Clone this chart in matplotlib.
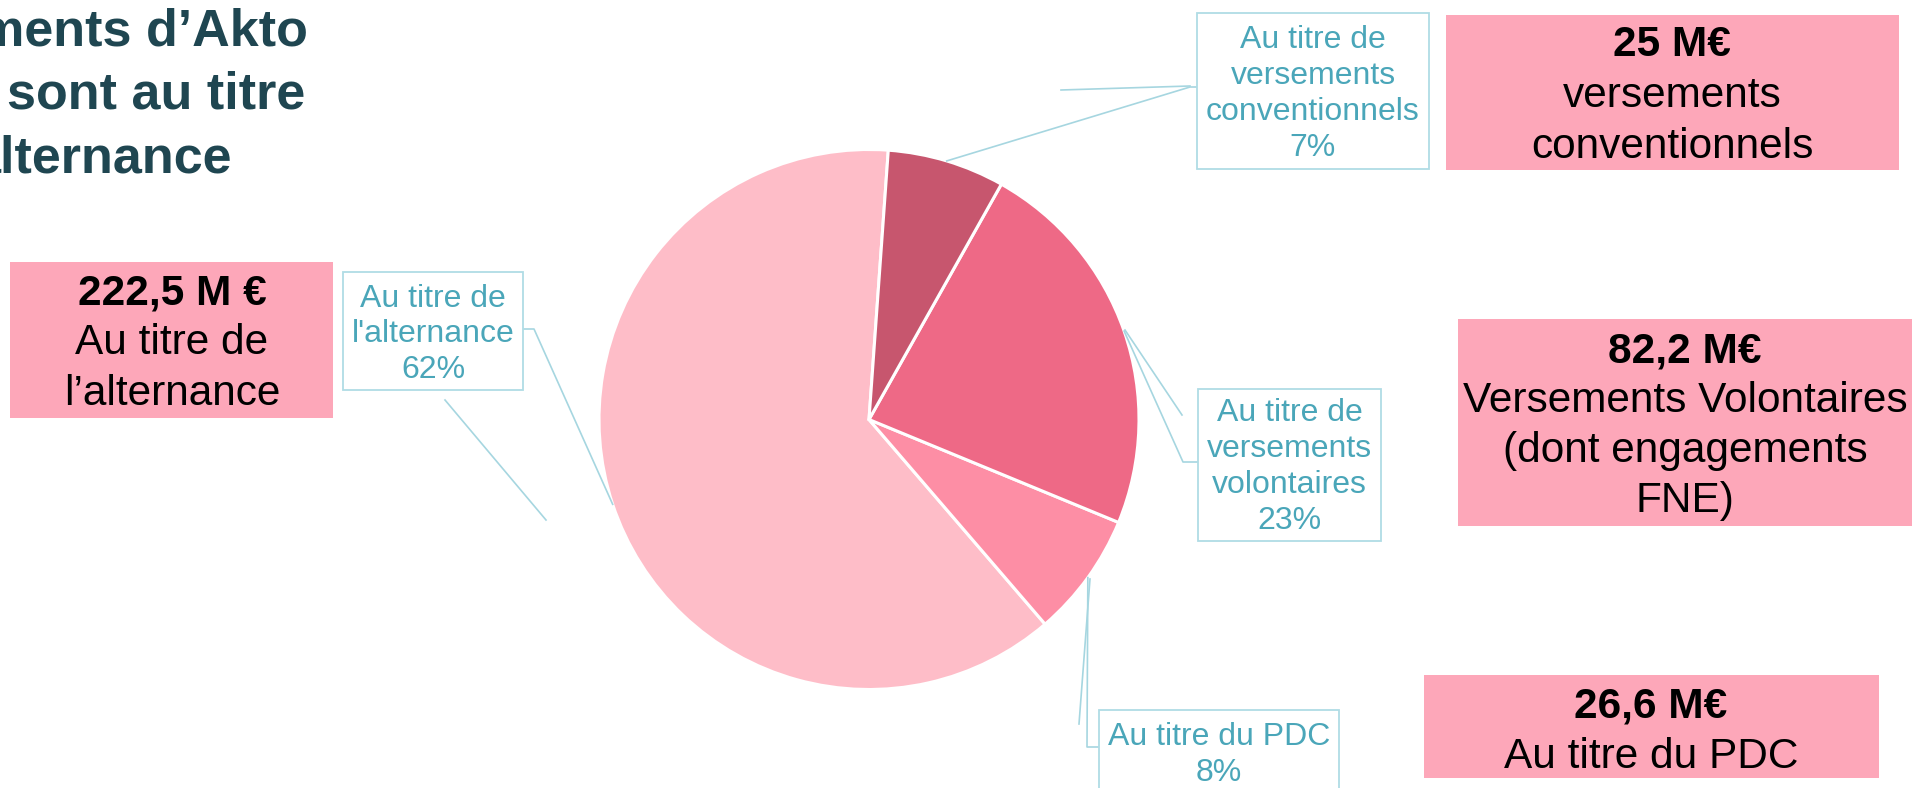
import matplotlib
matplotlib.use("Agg")
import matplotlib.pyplot as plt
from matplotlib.patches import Rectangle
import numpy as np

plt.rcParams['font.family'] = ['Liberation Sans', 'DejaVu Sans']

# data (M€), in pie order (counter-clockwise from top)
categories = ["alternance", "PDC", "volontaires", "conventionnels"]
amounts = [222.5, 26.6, 82.2, 25.0]
pct_labels = ["62%", "8%", "23%", "7%"]
slice_colors = ["#FEBDC8", "#FD8EA5", "#EE6986", "#C7566E"]

label_texts = {
    "alternance": ["Au titre de", "l'alternance"],
    "PDC": ["Au titre du PDC"],
    "volontaires": ["Au titre de", "versements", "volontaires"],
    "conventionnels": ["Au titre de", "versements", "conventionnels"],
}
amount_titles = ["222,5 M €", "26,6 M€", "82,2 M€", "25 M€"]
amount_texts = [
    ["Au titre de", "l’alternance"],
    ["Au titre du PDC"],
    ["Versements Volontaires", "(dont engagements", "FNE)"],
    ["versements", "conventionnels"],
]

W, H = 1916, 788
teal_text = "#4AA6B9"
teal_line = "#A6D6E0"
box_pink = "#FDA7B9"

fig = plt.figure(figsize=(W / 100, H / 100), dpi=100)
ax = fig.add_axes([0, 0, 1, 1])

cx, cy, r = 869, 419.5, 270
wedges, _ = ax.pie(amounts, colors=slice_colors, startangle=-85.9, counterclock=False,
                   center=(cx, cy), radius=r,
                   wedgeprops=dict(edgecolor="white", linewidth=2.2))
ax.set_xlim(0, W)
ax.set_ylim(H, 0)
ax.set_aspect("auto")
ax.axis("off")


def put_lines(xc, baselines, lines, size, color, bold_first=False):
    for i, (yb, s) in enumerate(zip(baselines, lines)):
        ax.text(xc, yb, s, ha="center", va="baseline", fontsize=size, color=color,
                fontweight="bold" if (bold_first and i == 0) else "normal")


# title (cut at the left edge of the slide)
title_color = "#1F4651"
for s, xr, yb in [("ments d’Akto", 308, 45), ("sont au titre", 305, 108), ("alternance", 232, 172)]:
    ax.text(xr, yb, s, ha="right", va="baseline", fontsize=37.5, fontweight="bold", color=title_color)

# data label boxes: (x0, y0, x1, y1), baselines, leader elbow, attach point
label_layout = {
    "alternance": ((343, 272, 523, 390), [307, 342, 378], (534, 329), (523, 329)),
    "PDC": ((1099, 710, 1339, 800), [745, 781], (1087, 747), (1099, 747)),
    "volontaires": ((1198, 389, 1381, 541), [421, 457, 493, 529], (1183, 462), (1198, 462)),
    "conventionnels": ((1197, 13, 1429, 169), [48, 84, 120, 156], (1190, 87), (1197, 87)),
}

for w, cat, pct in zip(wedges, categories, pct_labels):
    (x0, y0, x1, y1), bls, elbow, attach = label_layout[cat]
    ax.add_patch(Rectangle((x0, y0), x1 - x0, y1 - y0, facecolor="white",
                           edgecolor="#B0DCE5", linewidth=1.3, zorder=3))
    put_lines((x0 + x1) / 2, bls, label_texts[cat] + [pct], 23, teal_text)
    mid = np.deg2rad((w.theta1 + w.theta2) / 2)
    ex, ey = cx + r * np.cos(mid), cy + r * np.sin(mid)
    ax.plot([ex, elbow[0], attach[0]], [ey, elbow[1], attach[1]], color=teal_line, lw=1.2, zorder=2)

# stray leader lines left over on the slide
for (xa, ya), (xb, yb) in [((445, 400), (546, 520)), ((1061, 90), (1190, 86)),
                           ((1125, 330), (1182, 415)), ((1090, 579), (1079, 724))]:
    ax.plot([xa, xb], [ya, yb], color=teal_line, lw=1.2, zorder=2)

# amount boxes
amount_layout = [
    ((10, 262, 333, 418), 172, [304, 354, 405]),
    ((1424, 675, 1879, 778), 1651, [717, 768]),
    ((1458, 319, 1912, 526), 1685, [362, 412, 462, 512]),
    ((1446, 15, 1899, 170), 1672, [56, 107, 158]),
]
for (box, xc, bls), t, lines in zip(amount_layout, amount_titles, amount_texts):
    x0, y0, x1, y1 = box
    ax.add_patch(Rectangle((x0, y0), x1 - x0, y1 - y0, facecolor=box_pink, edgecolor="none", zorder=3))
    put_lines(xc, bls, [t] + lines, 30.5, "black", bold_first=True)

fig.savefig("out.png", dpi=100, facecolor="white")
